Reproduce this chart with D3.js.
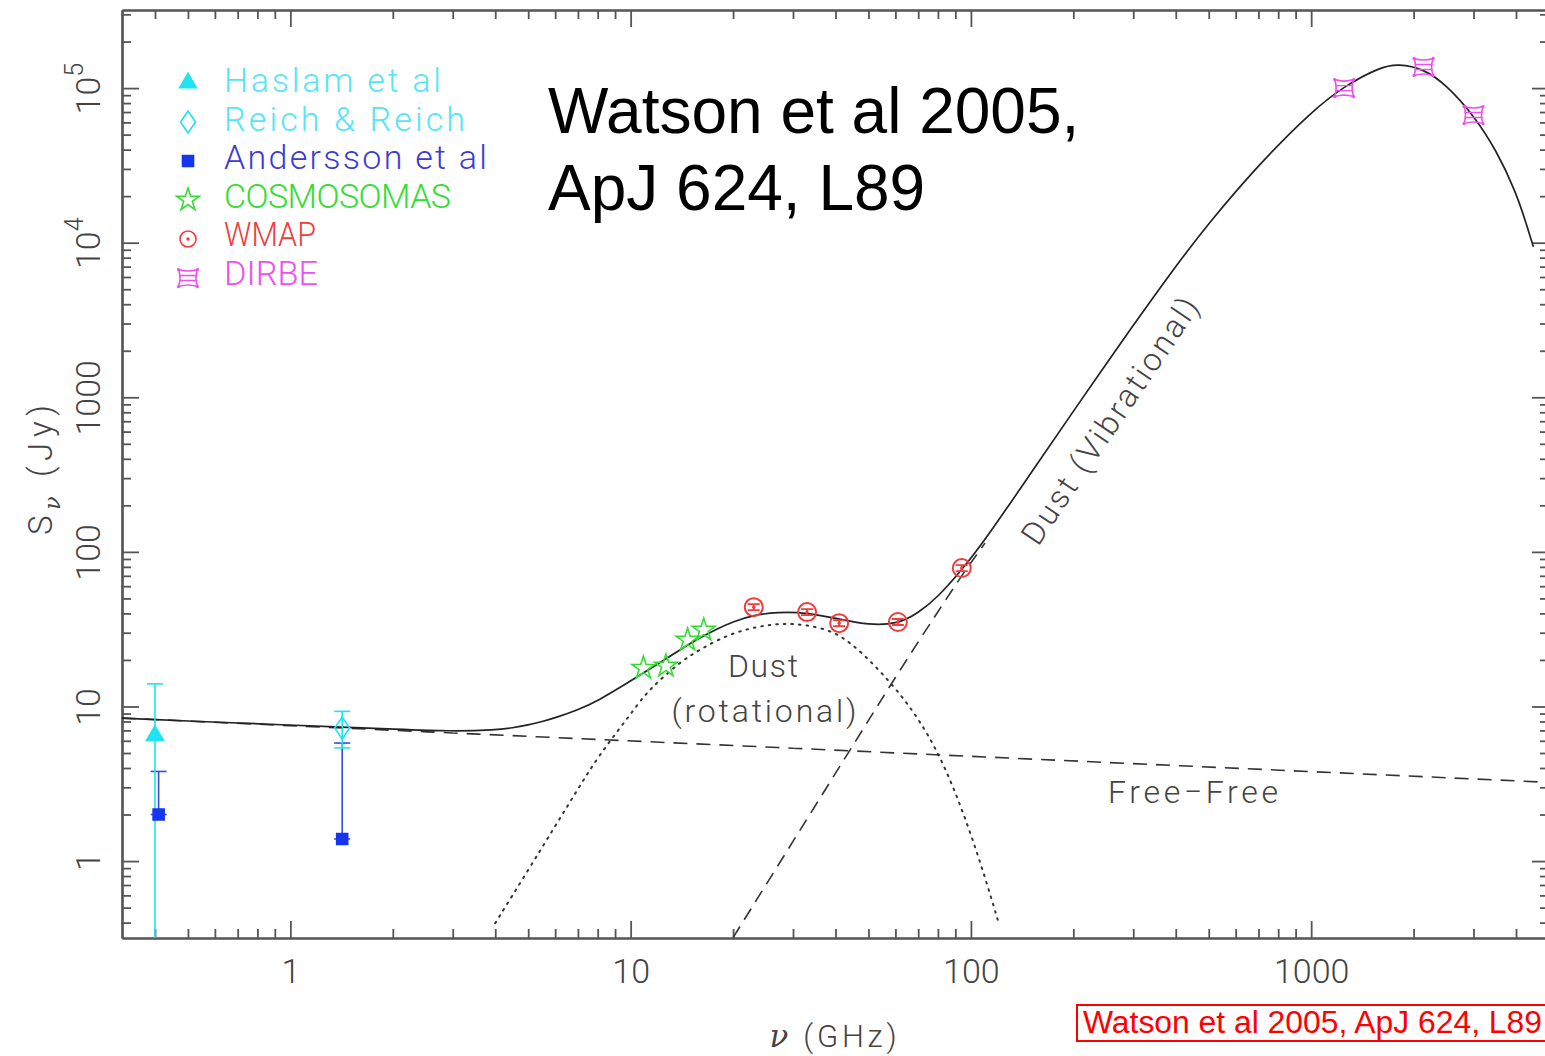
<!DOCTYPE html>
<html><head><meta charset="utf-8">
<script src="https://cdn.jsdelivr.net/npm/d3@7"></script>
<style>
body{margin:0;background:#fff;}
svg{display:block;background:#fff;}
</style></head><body>
<svg id="chart" width="1545" height="1056"></svg>
<script>
// ---------------- DATA ----------------
const xMajor = [1, 10, 100, 1000];
const xMinor = [0.4,0.5,0.6,0.7,0.8,0.9, 2,3,4,5,6,7,8,9, 20,30,40,50,60,70,80,90, 200,300,400,500,600,700,800,900, 2000,3000,4000];
const xTickLabels = ["1", "10", "100", "1000"];
const yMajor = [1, 10, 100, 1000, 1e4, 1e5];
const yMinor = [0.4,0.5,0.6,0.7,0.8,0.9, 2,3,4,5,6,7,8,9, 20,30,40,50,60,70,80,90, 200,300,400,500,600,700,800,900,
  2000,3000,4000,5000,6000,7000,8000,9000, 2e4,3e4,4e4,5e4,6e4,7e4,8e4,9e4, 2e5,3e5];
const yTickBase = ["1", "10", "100", "1000", "10", "10"];
const yTickExp  = ["", "", "", "", "4", "5"];

// total model (solid)  [GHz, Jy]
const totalCurve = [[0.32,8.41],[0.5,8.05],[1,7.58],[1.42,7.36],[2,7.14],[3,6.9],[4,7.05],[4.5,7.27],[5,7.60],[5.5,7.99],[6,8.44],[7,9.51],[8,10.85],
  [10,14.6],[12,18.8],[14,23.3],[16,27.9],[18,31.9],[20,35.4],[23,39.0],[27,40.8],[33,40.5],[41,36.8],[50,33.6],[61,34.1],
  [70,40.2],[80,51.0],[94,76.3],[110,119],[150,323],[200,814],[300,2930],[400,7060],[500,13400],[700,31950],[1000,70340],
  [1250,103200],[1600,137000],[1800,143500],[2141,133500],[2500,104500],[3000,66900],[3500,39700],[4000,21250],[4300,13000],[4500,9400]];
// free-free (dashed)
const freeFreeCurve = [[0.32,8.41],[3,6.74],[30,5.37],[100,4.76],[1000,3.79],[5000,3.23]];
// spinning (rotational) dust (dotted)
const rotDustCurve = [[4,0.397],[5,0.875],[6,1.684],[7,2.92],[8,4.71],[10,8.93],[11,11.85],[12,14.4],[14,19.4],[16,23.5],[20,30.3],
  [25,33.6],[28,34.4],[33,33.9],[40,30.3],[45,24.9],[50,20.3],[60,13.2],[70,8.41],[80,5.07],[90,2.80],[100,1.495],[110,0.788],[120,0.415]];
// vibrational dust (dashed)
const vibDustCurve = [[20,0.32],[30,1.34],[45,5.6],[60,15.4],[80,41],[94,70],[110,114]];

// measurements
const haslam   = [{nu:0.40, s:6.5,  lo:0.01, hi:14.0}];
const reich    = [{nu:1.42, s:7.25, lo:5.4,  hi:9.3}];
const andersson= [{nu:0.41, s:2.0,  hi:3.8}, {nu:1.42, s:1.39, hi:5.8}];
const cosmosomas = [{nu:10.9, s:17.7}, {nu:12.7, s:18.3}, {nu:14.7, s:26.9}, {nu:16.4, s:31.2}];
const wmap     = [{nu:23, s:43.9}, {nu:33, s:40.8}, {nu:41, s:34.6}, {nu:61, s:35.2}, {nu:94, s:78.6}];
const dirbe    = [{nu:1250, s:1.0e5}, {nu:2140, s:1.37e5}, {nu:3000, s:6.7e4}];

const legendLabels = ["Haslam et al", "Reich & Reich", "Andersson et al", "COSMOSOMAS", "WMAP", "DIRBE"];
const legendSymbols = ["triangle", "diamond", "square", "star", "circle", "dirbe"];

// ---------------- STYLE ----------------
const colCyan = "#1fe3f0", colCyanText = "#55e6f5", colBlue = "#1535f0", colBlueText = "#3c3cd2",
      colGreen = "#33dd33", colRed = "#f03c3c", colMag = "#f04ef0";
const legendColors = [colCyanText, colCyanText, colBlueText, colGreen, colRed, colMag];
const legendMarkColors = [colCyan, colCyan, colBlue, colGreen, colRed, colMag];
const legendWidths = [217, 241, 263, 227, 92, 94];
const legendAdjust = ["spacing","spacing","spacing","spacing","spacingAndGlyphs","spacingAndGlyphs"];
const axisCol = "#555";
const labelFont = "Roboto, 'DejaVu Sans', sans-serif";

const svg = d3.select("#chart");
const L = 122, R = 1549, T = 10, B = 938;
const x = d3.scaleLog().domain([0.32, 5000]).range([L, R]);
const y = d3.scaleLog().domain([0.318, 3.2e5]).range([B, T]);

svg.append("defs").append("clipPath").attr("id","plotclip")
  .append("rect").attr("x",L).attr("y",T).attr("width",R-L).attr("height",B-T);

// ---------------- AXES ----------------
function styleAxis(g){
  g.selectAll("path.domain").attr("stroke",axisCol).attr("stroke-width",2.2);
  g.selectAll(".tick line").attr("stroke",axisCol).attr("stroke-width",1.8);
  g.selectAll(".tick text").remove();
}
const axes = svg.append("g");
axes.append("g").attr("transform",`translate(0,${B})`).call(d3.axisBottom(x).tickValues(xMinor).tickSize(-9).tickSizeOuter(0).tickFormat("")).call(styleAxis);
axes.append("g").attr("transform",`translate(0,${B})`).call(d3.axisBottom(x).tickValues(xMajor).tickSize(-17).tickSizeOuter(0).tickFormat("")).call(styleAxis);
axes.append("g").attr("transform",`translate(0,${T})`).call(d3.axisTop(x).tickValues(xMinor).tickSize(-9).tickSizeOuter(0).tickFormat("")).call(styleAxis);
axes.append("g").attr("transform",`translate(0,${T})`).call(d3.axisTop(x).tickValues(xMajor).tickSize(-17).tickSizeOuter(0).tickFormat("")).call(styleAxis);
axes.append("g").attr("transform",`translate(${L},0)`).call(d3.axisLeft(y).tickValues(yMinor).tickSize(-9).tickSizeOuter(0).tickFormat("")).call(styleAxis);
axes.append("g").attr("transform",`translate(${L},0)`).call(d3.axisLeft(y).tickValues(yMajor).tickSize(-17).tickSizeOuter(0).tickFormat("")).call(styleAxis);
axes.append("g").attr("transform",`translate(${R},0)`).call(d3.axisRight(y).tickValues(yMinor).tickSize(-9).tickSizeOuter(0).tickFormat("")).call(styleAxis);
axes.append("g").attr("transform",`translate(${R},0)`).call(d3.axisRight(y).tickValues(yMajor).tickSize(-17).tickSizeOuter(0).tickFormat("")).call(styleAxis);

// tick labels
const xl = axes.append("g").attr("transform",`translate(0,${B})`)
  .call(d3.axisBottom(x).tickValues(xMajor).tickSize(0).tickFormat((d,i)=>xTickLabels[i]));
xl.select("path.domain").remove();
xl.selectAll(".tick text").attr("y",45).attr("dy",0)
  .attr("font-family",labelFont).attr("font-weight",300).attr("font-size",34).attr("fill","#444");

const yl = axes.append("g").attr("transform",`translate(${L},0)`)
  .call(d3.axisLeft(y).tickValues(yMajor).tickSize(0).tickFormat(""));
yl.select("path.domain").remove();
yl.selectAll(".tick text").each(function(d,i){
  const t = d3.select(this);
  t.attr("transform","rotate(-90)").attr("x",0).attr("y",-22).attr("dy",0)
   .attr("text-anchor","middle").attr("font-family",labelFont).attr("font-weight",300)
   .attr("font-size",34).attr("fill","#444").text(yTickBase[i]);
  if (yTickExp[i]) t.append("tspan").attr("dy",-17).attr("font-size",25).text(yTickExp[i]);
});

// axis titles
const xt = svg.append("text").attr("x",833).attr("y",1047).attr("text-anchor","middle")
  .attr("textLength",127).attr("lengthAdjust","spacing")
  .attr("font-family",labelFont).attr("font-weight",300).attr("font-size",31).attr("fill","#444");
xt.append("tspan").attr("font-family","'DejaVu Serif', serif").attr("font-style","italic").text("ν");
xt.append("tspan").text(" (GHz)");

const yt = svg.append("text").attr("transform","translate(52,470) rotate(-90)").attr("text-anchor","middle")
  .attr("textLength",130).attr("lengthAdjust","spacing")
  .attr("font-family",labelFont).attr("font-weight",300).attr("font-size",33).attr("fill","#444");
yt.append("tspan").text("S");
yt.append("tspan").attr("dy",8).attr("font-size",22).attr("font-family","'DejaVu Serif', serif").attr("font-style","italic").text("ν");
yt.append("tspan").attr("dy",-8).text(" (Jy)");

// ---------------- CURVES ----------------
const plot = svg.append("g").attr("clip-path","url(#plotclip)");
const line = d3.line().x(d=>x(d[0])).y(d=>y(d[1])).curve(d3.curveMonotoneX);
const smooth = d3.line().x(d=>x(d[0])).y(d=>y(d[1])).curve(d3.curveBasis);
plot.append("path").datum(freeFreeCurve).attr("d",line).attr("fill","none").attr("stroke","#333").attr("stroke-width",1.6).attr("stroke-dasharray","14,9");
plot.append("path").datum(vibDustCurve).attr("d",line).attr("fill","none").attr("stroke","#333").attr("stroke-width",1.6).attr("stroke-dasharray","13,8");
plot.append("path").datum(rotDustCurve).attr("d",smooth)
  .attr("fill","none").attr("stroke","#333").attr("stroke-width",2).attr("stroke-dasharray","1.6,6").attr("stroke-linecap","round");
plot.append("path").datum(totalCurve).attr("d",smooth)
  .attr("fill","none").attr("stroke","#222").attr("stroke-width",1.7);

// curve labels
const lblStyle = s => s.attr("font-family",labelFont).attr("font-weight",300).attr("fill","#444").attr("font-size",32);
svg.append("text").attr("x",763).attr("y",677).attr("text-anchor","middle").attr("textLength",70).attr("lengthAdjust","spacing").text("Dust").call(lblStyle);
svg.append("text").attr("x",764).attr("y",722).attr("text-anchor","middle").attr("textLength",185).attr("lengthAdjust","spacing").text("(rotational)").call(lblStyle);
svg.append("text").attr("x",1193).attr("y",803).attr("text-anchor","middle").attr("textLength",170).attr("lengthAdjust","spacing").text("Free−Free").call(lblStyle);
svg.append("text").attr("transform","translate(1119,427) rotate(-56)").attr("text-anchor","middle")
  .attr("textLength",290).attr("lengthAdjust","spacing").text("Dust (Vibrational)").call(lblStyle);

// ---------------- MARKERS ----------------
const paths = {
  triangle: d3.symbol(d3.symbolTriangle, 120)(),
  diamond: "M0,-11L7.5,0L0,11L-7.5,0Z",
  square: "M-5.5,-5.5H5.5V5.5H-5.5Z",
  star: d3.symbol(d3.symbolStar, 160)(),
  dirbe: "M-9.5,-8.5Q0,-5.5 9.5,-8.5Q6.5,0 9.5,8.5Q0,5.5 -9.5,8.5Q-6.5,0 -9.5,-8.5Z"
};
function drawMark(g, type, color, cx, cy, big){
  const m = g.append("g").attr("transform",`translate(${cx},${cy})`);
  if (type === "circle"){
    m.append("circle").attr("r",big?9:8).attr("fill","none").attr("stroke",color).attr("stroke-width",big?2:1.6);
    m.append("circle").attr("r",1.7).attr("fill",color);
  } else {
    const filled = (type==="triangle"||type==="square");
    m.append("path").attr("d",paths[type]).attr("fill",filled?color:"none").attr("stroke",color).attr("stroke-width",1.6);
    if (type==="dirbe"){
      m.append("path").attr("d","M-9,-2.5H9M-9,2.5H9").attr("stroke",color).attr("stroke-width",1.4);
      [[-9.5,-8.5],[9.5,-8.5],[9.5,8.5],[-9.5,8.5]].forEach(p=>m.append("circle").attr("cx",p[0]).attr("cy",p[1]).attr("r",1.6).attr("fill",color));
    }
  }
}
function errBar(g, color, nu, lo, hi, cap){
  const cx = x(nu);
  g.append("line").attr("x1",cx).attr("x2",cx).attr("y1",y(lo)).attr("y2",y(hi)).attr("stroke",color).attr("stroke-width",1.6);
  g.append("line").attr("x1",cx-cap).attr("x2",cx+cap).attr("y1",y(hi)).attr("y2",y(hi)).attr("stroke",color).attr("stroke-width",1.6);
  if (lo > 0.318) g.append("line").attr("x1",cx-cap).attr("x2",cx+cap).attr("y1",y(lo)).attr("y2",y(lo)).attr("stroke",color).attr("stroke-width",1.6);
}
const pts = svg.append("g").attr("clip-path","url(#plotclip)");
andersson.forEach(d=>{ errBar(pts, "#3050e0", d.nu, d.s, d.hi, 8); });
haslam.forEach(d=>{ errBar(pts, colCyan, d.nu, d.lo, d.hi, 8); });
reich.forEach(d=>{ errBar(pts, colCyan, d.nu, d.lo, d.hi, 8); });
haslam.forEach(d=>drawMark(pts,"triangle",colCyan,x(d.nu),y(d.s)));
reich.forEach(d=>drawMark(pts,"diamond",colCyan,x(d.nu),y(d.s)));
andersson.forEach(d=>drawMark(pts,"square",colBlue,x(d.nu),y(d.s)));
cosmosomas.forEach(d=>drawMark(pts,"star",colGreen,x(d.nu),y(d.s)));
wmap.forEach(d=>{
  const cx=x(d.nu), cy=y(d.s);
  pts.append("path").attr("d",`M${cx-6},${cy-3}H${cx+6}M${cx-6},${cy+3}H${cx+6}M${cx},${cy-3}V${cy+3}`).attr("stroke",colRed).attr("stroke-width",1.8);
  drawMark(pts,"circle",colRed,cx,cy,true);
});
dirbe.forEach(d=>drawMark(pts,"dirbe",colMag,x(d.nu),y(d.s)));

// ---------------- LEGEND ----------------
const leg = svg.append("g");
legendLabels.forEach((lab,i)=>{
  drawMark(leg, legendSymbols[i], legendMarkColors[i], 188, 83 + i*39);
  leg.append("text").attr("x",224).attr("y",92 + i*38.5).attr("font-family",labelFont).attr("font-weight",300)
    .attr("font-size",34).attr("fill",legendColors[i]).attr("textLength",legendWidths[i]).attr("lengthAdjust",legendAdjust[i]).text(lab);
});

// ---------------- TITLE / NOTE ----------------
const title = svg.append("text").attr("font-family","'Liberation Sans', Arial, sans-serif").attr("font-size",64).attr("fill","#000");
title.append("tspan").attr("x",548).attr("y",133).text("Watson et al 2005,");
title.append("tspan").attr("x",548).attr("y",210).text("ApJ 624, L89");

svg.append("rect").attr("x",1077).attr("y",1005).attr("width",476).attr("height",36).attr("fill","#fff").attr("stroke","#f00").attr("stroke-width",2);
svg.append("text").attr("x",1083).attr("y",1033).attr("font-family","'Liberation Sans', Arial, sans-serif").attr("font-size",31).attr("fill","#f00")
  .attr("textLength",459).attr("lengthAdjust","spacingAndGlyphs").text("Watson et al 2005, ApJ 624, L89");
</script>
</body></html>
